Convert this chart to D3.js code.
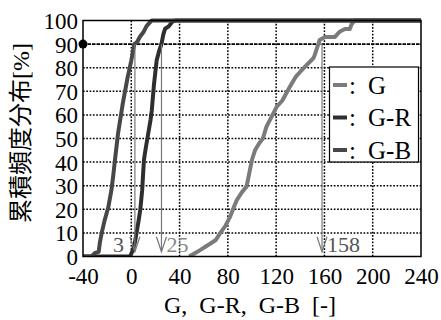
<!DOCTYPE html>
<html lang="en">
<head>
<meta charset="utf-8">
<script src="https://cdn.jsdelivr.net/npm/d3@7"></script>
</head>
<body style="margin:0">
<svg width="441" height="320" font-family="Liberation Serif"></svg>
<script>
// cumulative distribution curves
const gX = [48, 53, 57, 61, 65, 70, 73.5, 78, 82, 85, 87.5, 92, 95.5, 98, 100, 102.5, 106, 109, 112, 115, 120.5, 125, 131.5, 136, 140, 145, 150.8, 152, 156, 160.5, 168.5, 172.5, 177, 181, 182.5, 185, 240]
const gY = [0, 1.5, 2.7, 4, 5.3, 7, 9.8, 13, 17, 21, 24, 27.5, 29.6, 36, 41, 45, 48, 50, 55, 58, 63.5, 66, 72, 76, 78.3, 81, 84, 85.4, 91.7, 93, 93, 95.2, 96.4, 96.4, 98.4, 100, 100]

const grX = [-40, -1, 1.5, 3, 4.5, 6, 7.5, 9, 10.5, 12, 14, 16, 17, 18.8, 21, 23, 25, 26.5, 28, 31, 34, 37, 240]
const grY = [0, 0, 3, 6, 10.5, 15, 20, 28, 41, 46, 52, 58, 62, 73, 83, 87, 90, 94, 96.5, 97.5, 99.5, 100, 100]

const gbX = [-40, -33, -30, -27, -26, -24.5, -22, -19, -16.5, -15, -13.5, -11, -7, -3, 0, 2.5, 5, 7, 10, 12.5, 15, 17, 240]
const gbY = [0, 0, 1.5, 2, 6, 10, 15.5, 21, 28, 34, 41, 52, 65, 76, 83, 90, 91, 93, 95, 97.5, 99, 100, 100]

const seriesNames = ["G", "G-R", "G-B"]
const seriesColors = ["#7b7b7b", "#2e2e2e", "#474747"]

const xTicks = [-40, 0, 40, 80, 120, 160, 200, 240]
const yTicks = [0, 10, 20, 30, 40, 50, 60, 70, 80, 90, 100]

// 90% marks
const level = 90
const markX = [3, 25, 158]
const markLabels = ["3", "25", "158"]

const SERIF = "Liberation Serif"

const svg = d3.select("svg")

const x = d3.scaleLinear().domain([-40, 240]).range([83, 421])
const y = d3.scaleLinear().domain([0, 100]).range([256.5, 20.5])

// grid
const grid = svg.append("g")
grid.selectAll(".vg")
  .data(xTicks.slice(1, -1))
  .enter()
  .append("line")
  .attr("x1", d => x(d)).attr("x2", d => x(d))
  .attr("y1", y(0)).attr("y2", y(100))
  .attr("stroke", "#000").attr("stroke-width", 1.5)
  .attr("stroke-dasharray", "1.7,1.6")

grid.selectAll(".hg")
  .data(yTicks.slice(1, -1))
  .enter()
  .append("line")
  .attr("x1", x(-40)).attr("x2", x(240))
  .attr("y1", d => y(d)).attr("y2", d => y(d))
  .attr("stroke", "#000")
  .attr("stroke-width", d => d === level ? 1.8 : 1.5)
  .attr("stroke-dasharray", d => d === level ? "3.5,1" : "1.7,1.6")

// curves
const line = d3.line().x(d => x(d[0])).y(d => y(d[1]))
const series = [
  d3.zip(gX, gY),
  d3.zip(grX, grY),
  d3.zip(gbX, gbY)
]

svg.append("clipPath").attr("id", "clip")
  .append("rect")
  .attr("x", x(-40)).attr("y", y(100) - 3)
  .attr("width", x(240) - x(-40)).attr("height", y(0) - y(100) + 3)

svg.append("g").attr("clip-path", "url(#clip)")
  .selectAll("path")
  .data(series)
  .enter()
  .append("path")
  .attr("d", line)
  .attr("fill", "none")
  .attr("stroke", (d, i) => seriesColors[i])
  .attr("stroke-width", 4)
  .attr("stroke-linejoin", "round")

// frame
svg.append("rect")
  .attr("x", x(-40)).attr("y", y(100))
  .attr("width", x(240) - x(-40)).attr("height", y(0) - y(100))
  .attr("fill", "none").attr("stroke", "#000").attr("stroke-width", 1.5)

// axes
const xAxis = svg.append("g")
  .attr("transform", `translate(0,${y(0)})`)
  .call(d3.axisBottom(x).tickValues(xTicks).tickFormat(d => String(d)).tickSize(0).tickPadding(11))
xAxis.attr("font-family", SERIF).attr("font-size", 23)
xAxis.select(".domain").remove()
xAxis.selectAll("text").attr("fill", "#000").attr("font-family", SERIF)

const yAxis = svg.append("g")
  .attr("transform", `translate(${x(-40)},0)`)
  .call(d3.axisLeft(y).tickValues(yTicks).tickSize(0).tickPadding(5))
yAxis.attr("font-family", SERIF).attr("font-size", 23)
yAxis.select(".domain").remove()
yAxis.selectAll("text").attr("fill", "#000").attr("dy", "0.35em").attr("font-family", SERIF)

// 90% dot on y axis
svg.append("circle")
  .attr("cx", x(-40)).attr("cy", y(level)).attr("r", 4.5)
  .attr("fill", "#000")

// arrows down from 90%
const marks = svg.append("g")
markX.forEach((v, i) => {
  const px = x(v)
  marks.append("line")
    .attr("x1", px).attr("x2", px)
    .attr("y1", y(level)).attr("y2", y(2))
    .attr("stroke", "#777").attr("stroke-width", 1.2)
  marks.append("path")
    .attr("d", `M${px - 5},${y(2) - 15}L${px},${y(2)}L${px + 5},${y(2) - 15}`)
    .attr("fill", "none").attr("stroke", "#777").attr("stroke-width", 1.2)
  marks.append("text")
    .attr("x", i === 0 ? px - 11 : px + 5)
    .attr("y", y(2))
    .attr("text-anchor", i === 0 ? "end" : "start")
    .attr("font-family", SERIF).attr("font-size", 22)
    .attr("fill", i === 1 ? "#888" : "#555")
    .text(markLabels[i])
})

// legend
const lg = svg.append("g")
lg.append("rect")
  .attr("x", 329.5).attr("y", 67).attr("width", 89).attr("height", 95)
  .attr("fill", "#fff").attr("stroke", "#000").attr("stroke-width", 1.2)
seriesNames.forEach((n, i) => {
  const ly = 85 + i * 32.5
  lg.append("line")
    .attr("x1", 333).attr("x2", 347)
    .attr("y1", ly).attr("y2", ly)
    .attr("stroke", seriesColors[i]).attr("stroke-width", 4)
  lg.append("text")
    .attr("x", 349).attr("y", ly + 8.5)
    .attr("font-family", SERIF).attr("font-size", 25)
    .attr("fill", "#000")
    .text(":")
  lg.append("text")
    .attr("x", 368).attr("y", ly + 8.5)
    .attr("font-family", SERIF).attr("font-size", 25)
    .attr("fill", "#000")
    .text(n)
})

// axis titles
svg.append("text")
  .attr("x", 250).attr("y", 313)
  .attr("text-anchor", "middle")
  .attr("font-family", SERIF).attr("font-size", 24)
  .attr("word-spacing", 6)
  .text("G, G-R, G-B [-]")

const yt = svg.append("text")
  .attr("transform", "translate(29,133) rotate(-90)")
  .attr("text-anchor", "middle")
  .attr("font-size", 24)
yt.append("tspan").attr("lang", "ja").attr("font-family", "Noto Sans CJK JP").text("累積頻度分布")
yt.append("tspan").attr("font-family", SERIF).text("[%]")
</script>
</body>
</html>
